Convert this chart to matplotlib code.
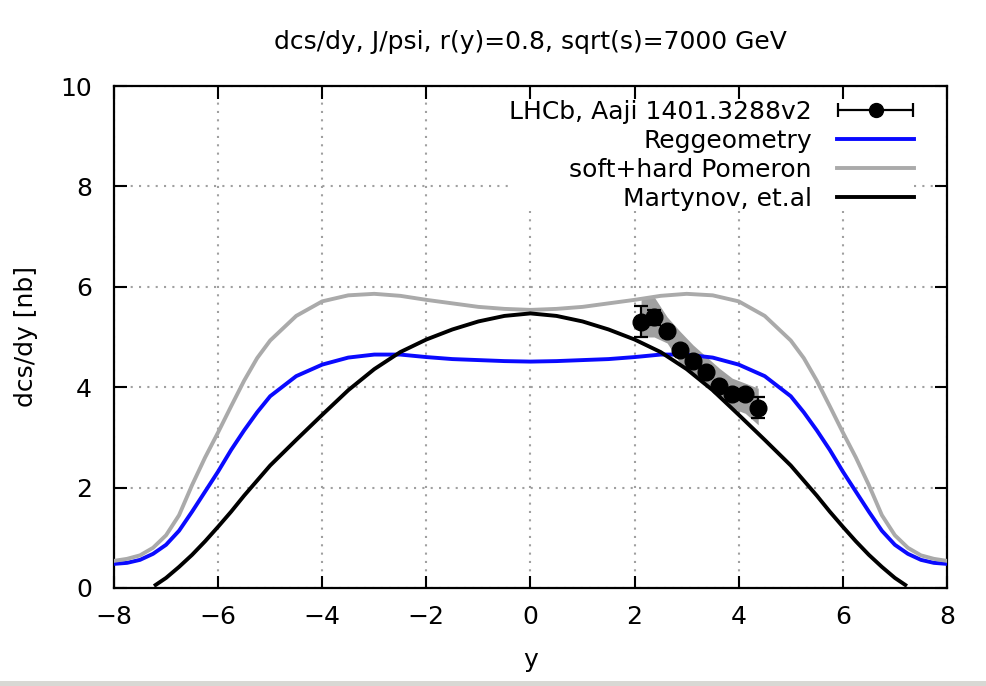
import numpy as np
import matplotlib
matplotlib.use('Agg')
import matplotlib.pyplot as plt
from matplotlib.legend_handler import HandlerErrorbar
from matplotlib.patches import Rectangle

# model curves
y_grid = [-8, -7.75, -7.5, -7.25, -7, -6.75, -6.5, -6.25, -6, -5.75, -5.5, -5.25, -5,
          -4.5, -4, -3.5, -3, -2.5, -2, -1.5, -1, -0.5, 0, 0.5, 1, 1.5, 2, 2.5, 3, 3.5, 4, 4.5,
          5, 5.25, 5.5, 5.75, 6, 6.25, 6.5, 6.75, 7, 7.25, 7.5, 7.75, 8]
regge = [0.48, 0.50, 0.56, 0.68, 0.86, 1.14, 1.52, 1.92, 2.32, 2.75, 3.14, 3.50, 3.82,
         4.22, 4.45, 4.59, 4.65, 4.65, 4.60, 4.56, 4.54, 4.52, 4.51, 4.52, 4.54, 4.56, 4.60,
         4.65, 4.65, 4.59, 4.45, 4.22,
         3.82, 3.50, 3.14, 2.75, 2.32, 1.92, 1.52, 1.14, 0.86, 0.68, 0.56, 0.50, 0.48]
pomeron = [0.54, 0.58, 0.65, 0.80, 1.05, 1.45, 2.05, 2.60, 3.10, 3.62, 4.13, 4.58, 4.93,
           5.42, 5.71, 5.83, 5.86, 5.82, 5.74, 5.67, 5.60, 5.56, 5.54, 5.56, 5.60, 5.67, 5.74,
           5.82, 5.86, 5.83, 5.71, 5.42,
           4.93, 4.58, 4.13, 3.62, 3.10, 2.60, 2.05, 1.45, 1.05, 0.80, 0.65, 0.58, 0.54]

y_mart = [-7.2, -7, -6.75, -6.5, -6.25, -6, -5.75, -5.5, -5.25, -5, -4.5, -4, -3.5, -3, -2.5,
          -2, -1.5, -1, -0.5, 0, 0.5, 1, 1.5, 2, 2.5, 3, 3.5, 4, 4.5, 5, 5.25, 5.5, 5.75, 6,
          6.25, 6.5, 6.75, 7, 7.2]
martynov = [0.06, 0.20, 0.42, 0.66, 0.93, 1.22, 1.52, 1.84, 2.14, 2.44, 2.95, 3.45, 3.94,
            4.36, 4.70, 4.95, 5.15, 5.31, 5.42, 5.47, 5.42, 5.31, 5.15, 4.95, 4.70, 4.36,
            3.94, 3.45, 2.95, 2.44, 2.14, 1.84, 1.52, 1.22, 0.93, 0.66, 0.42, 0.20, 0.06]

# LHCb points
y_lhcb = [2.125, 2.375, 2.625, 2.875, 3.125, 3.375, 3.625, 3.875, 4.125, 4.375]
dcs_lhcb = [5.30, 5.39, 5.11, 4.74, 4.52, 4.30, 4.02, 3.86, 3.86, 3.59]
err_lhcb = [0.31, 0.15, 0.08, 0.07, 0.06, 0.06, 0.06, 0.07, 0.08, 0.21]
band_lo = [5.00, 5.00, 4.88, 4.48, 4.28, 4.04, 3.78, 3.58, 3.48, 3.25]
band_hi = [5.80, 5.80, 5.40, 5.11, 4.84, 4.61, 4.38, 4.18, 4.08, 3.98]

FS = 18
LW = 2.8
plt.rcParams['font.family'] = ['DejaVu Sans']

fig = plt.figure(figsize=(9.86, 6.86), dpi=100)
ax = fig.add_axes([0.1156, 0.1429, 0.8448, 0.7317])

ax.grid(True, color='#a0a0a0', linestyle=(0, (1, 3)), linewidth=1.5)
ax.set_axisbelow(True)

ax.fill_between(y_lhcb, band_lo, band_hi, color='#a0a0a0', lw=0, zorder=2)
ax.plot(y_grid, regge, color='#0a0aff', lw=LW, zorder=3)
ax.plot(y_grid, pomeron, color='#aaaaaa', lw=LW, zorder=3)
ax.plot(y_mart, martynov, color='black', lw=LW, zorder=3)
ax.errorbar(y_lhcb, dcs_lhcb, yerr=err_lhcb, fmt='o', color='black', ms=12,
            capsize=5, elinewidth=1.6, capthick=1.6, zorder=4)

# legend proxies
h_data = ax.errorbar([np.nan], [np.nan], xerr=[1], fmt='o', color='black', ms=10,
                     capsize=5, elinewidth=1.6, capthick=1.6)
h_reg, = ax.plot([], [], color='#0a0aff', lw=LW)
h_pom, = ax.plot([], [], color='#aaaaaa', lw=LW)
h_mar, = ax.plot([], [], color='black', lw=LW)
leg = ax.legend([h_data, h_reg, h_pom, h_mar],
                ['LHCb, Aaji 1401.3288v2', 'Reggeometry', 'soft+hard Pomeron', 'Martynov, et.al'],
                loc='upper right', bbox_to_anchor=(0.976, 0.998), markerfirst=False,
                fontsize=FS, handlelength=3.1, handletextpad=1.0, labelspacing=0.2,
                frameon=True, fancybox=False, facecolor='white', edgecolor='none',
                framealpha=1, borderpad=0.0,
                handler_map={type(h_data): HandlerErrorbar(xerr_size=1.5)})
for t in leg.get_texts():
    t.set_ha('right')
leg.set_zorder(5)

ax.set_xlim(-8, 8)
ax.set_ylim(0, 10)
ax.set_xticks(np.arange(-8, 9, 2))
ax.set_yticks(np.arange(0, 11, 2))
ax.tick_params(direction='in', length=9, width=1.5, top=True, right=True, labelsize=FS)
ax.tick_params(axis='y', pad=16)
ax.tick_params(axis='x', pad=12)
for s in ax.spines.values():
    s.set_linewidth(1.6)

ax.set_xlabel('y', fontsize=FS, labelpad=14)
ax.set_ylabel('dcs/dy [nb]', fontsize=FS, labelpad=16)
ax.set_title('dcs/dy, J/psi, r(y)=0.8, sqrt(s)=7000 GeV', fontsize=FS, pad=27)

fig.add_artist(Rectangle((0, 0), 1, 0.008, transform=fig.transFigure, color='#d8d8d4', lw=0))

fig.savefig('out.png', dpi=100)
